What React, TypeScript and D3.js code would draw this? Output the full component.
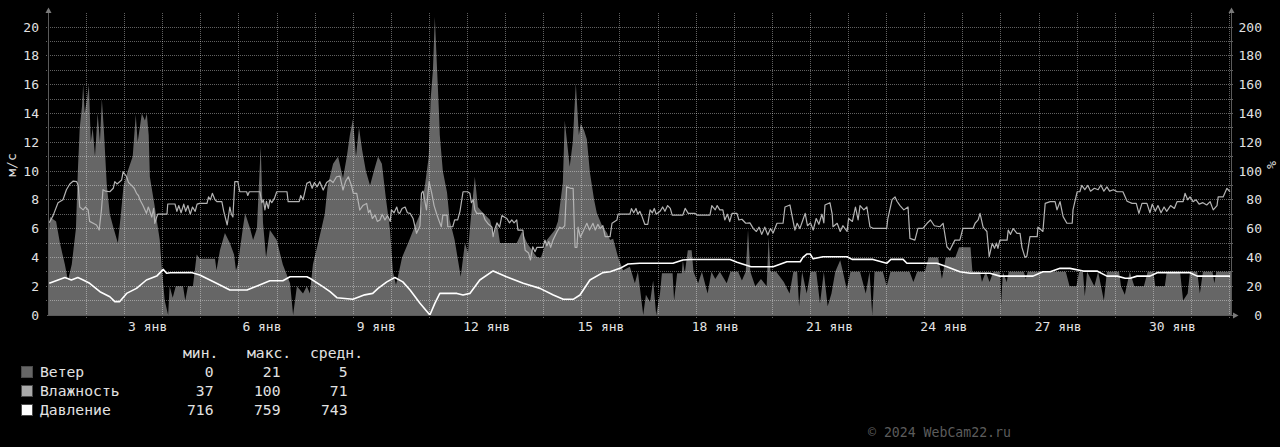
import React, { useEffect } from "react";
import * as d3 from "d3";

type Pt = [number, number];

// time in days since 1 Jan 00:00, values: wind m/s, humidity %, pressure mmHg
const windData: Pt[] = [
  [0,5.5],[0.04,6.8],[0.2,6.5],[0.3,5],[0.43,3.5],[0.51,2.4],[0.61,3.5],[0.72,6],[0.77,10],[0.82,13],[0.88,14.5],[0.91,16],[0.95,14],[1.01,15],[1.06,16],[1.11,12],[1.16,13],[1.22,11],[1.29,14],[1.35,12],[1.40,15],[1.45,13],[1.53,9],[1.61,7],[1.71,6],[1.82,5],[1.90,7],[1.97,9],[2.08,10],[2.21,11],[2.29,13.9],[2.34,12],[2.45,14],[2.53,13.5],[2.58,14],[2.63,12.5],
  [2.66,9.6],[2.79,7.5],[2.92,5.2],[2.97,3.35],[3.05,1.0],[3.14,0],[3.18,2.0],[3.26,1.2],[3.34,2.0],[3.53,2.0],[3.59,1.0],[3.66,2.0],[3.79,2.0],[3.89,4.2],[3.97,3.9],[4.37,3.9],[4.41,3.1],[4.5,4.5],[4.63,5.7],[4.76,5.0],[4.87,4.2],[4.92,3.1],[4.97,3.5],[5.1,6],[5.16,7.06],[5.29,6],[5.37,5.2],[5.47,6],[5.57,11.7],[5.63,6.4],[5.71,4.0],[5.81,5.9],[5.99,5.2],[6.15,3.5],[6.34,2.2],[6.42,0],[6.52,2.0],[6.68,1.5],[6.78,2.0],[6.86,1.5],[6.94,3.5],[7.12,5.5],[7.25,7],[7.33,9],
  [7.47,10.5],[7.60,11],[7.73,9.5],[7.83,11],[7.91,12.5],[7.99,13.6],[8.07,11],[8.15,13],[8.23,11.5],[8.33,10],[8.44,9],[8.54,10],[8.65,11],[8.75,10.5],[8.86,8],[8.96,6],[9.04,3],[9.12,2.1],[9.20,3],[9.28,4],[9.44,5],[9.59,6],[9.75,7],[9.88,9],[9.98,11],[10.03,15],[10.09,17],[10.14,20.7],[10.20,17],[10.25,14],[10.27,12.5],[10.35,10],[10.46,8.5],[10.53,6.6],[10.66,5.2],[10.82,2.66],[10.93,5],[11.01,4.3],[11.06,6],[11.19,9.6],[11.27,7.5],[11.40,7.1],[11.59,6.6],[11.69,5.5],[11.77,6.4],[11.85,5.0],[12.29,5.0],[12.43,5.8],[12.56,5.0],[12.81,4.05],[12.92,3.96],[13.08,5.2],[13.29,5.9],[13.37,6.5],[13.5,9.2],[13.55,13.5],[13.68,10.3],[13.76,12],[13.84,16.1],[13.92,12.5],[13.97,13.3],[14.06,12.8],[14.13,12.2],[14.21,9.9],[14.32,8],[14.39,7.1],[14.53,6.2],[14.66,5.7],[14.74,5.2],[14.82,5.3],[14.95,4.0],[15.08,3.1],[15.26,3.35],[15.39,2.2],[15.47,3],[15.61,0],[15.68,1.4],[15.79,0.9],[15.87,2.4],[15.95,0],[16.05,1.5],
  [16.1,2.9],[16.38,2.9],[16.42,1.0],[16.5,2.9],[16.62,2.9],[16.65,3.8],[16.7,2.9],[16.78,4.5],[16.88,4.5],[16.93,3.0],[17.05,2.2],[17.15,3.0],[17.3,1.5],[17.4,3.0],[17.5,2.5],[17.62,3.0],[17.8,2.2],[17.9,3.0],[18.1,3.0],[18.2,2.4],[18.3,3.0],[18.36,5.9],[18.42,3.0],[18.55,2.0],[18.7,2.5],[18.85,2.0],[18.9,5.4],[18.95,3.0],[19.1,3.0],[19.3,2.3],[19.45,1.5],[19.55,3.0],[19.65,3.0],[19.7,0.6],[19.78,3.0],[19.9,1.5],[20.0,3.0],[20.15,3.0],[20.25,0.8],[20.35,3.0],[20.45,0.6],[20.55,1.5],[20.65,3.0],[20.78,3.8],[20.85,3.0],[20.95,1.8],[21.05,3.0],[21.3,3.0],[21.45,1.5],[21.55,3.0],[21.62,0],[21.68,3.0],[21.9,3.0],[22.0,2.0],[22.1,3.0],[22.6,3.0],[22.7,2.3],[22.8,3.0],[23.0,3.0],[23.1,4.0],[23.35,4.0],[23.45,2.5],[23.55,4.0],[23.8,4.0],[23.9,4.7],[24.2,4.7],[24.25,3.0],[24.45,3.0],[24.5,2.3],[24.6,3.0],[24.7,2.3],[24.8,3.0],[24.97,3.0],[25.0,0.6],[25.05,3.0],[25.15,2.3],[25.2,3.0],[25.6,3.0],[25.65,2.5],[25.7,3.0],[26.7,3.0],[26.8,2.0],[26.98,2.0],[27.05,3.0],[27.15,3.0],[27.2,1.3],[27.26,3.0],[27.45,2.0],[27.55,3.0],[27.7,1.0],[27.78,3.0],[28.1,3.0],[28.15,2.0],[28.25,1.4],[28.38,3.0],[28.5,2.0],[28.75,2.0],[28.85,3.0],[29.0,3.0],[29.05,2.0],[29.3,2.0],[29.35,3.0],[29.7,3.0],[29.78,1.0],[29.9,1.5],[29.96,3.0],[30.15,3.0],[30.22,1.5],[30.3,3.0],[30.55,3.0],[30.6,2.2],[30.65,3.0],[31.05,3.0],
];

const humidityData: Pt[] = [
  [0.02,64],[0.12,69],[0.25,78],[0.38,80],[0.47,87],[0.56,91],[0.65,93],[0.74,92.6],[0.78,90],[0.82,75],[0.91,73],[0.97,75],[1.04,73],[1.08,65],[1.26,62.5],[1.33,59],[1.39,73],[1.43,87],[1.5,86],[1.61,85.6],[1.7,88],[1.74,92.6],[1.8,91],[1.92,93.8],[1.96,99.5],[2.05,96],[2.1,92],[2.18,90],[2.25,88],[2.31,84.5],[2.36,83],[2.40,80],[2.48,76],[2.57,70.6],[2.62,75],[2.66,72],[2.71,68],[2.76,74],[2.79,63.6],[2.84,68],[2.87,70.1],[3.11,70.1],[3.13,77.1],[3.32,77.1],[3.37,72],[3.42,76],[3.48,71],[3.55,77],[3.6,72],[3.66,76],[3.72,70],[3.78,75],[3.85,72],[3.9,77],[3.97,77.5],[4.16,77.5],[4.2,82],[4.25,80],[4.3,84.5],[4.37,80],[4.42,78.7],[4.55,78.7],[4.6,72],[4.69,62.5],[4.76,75],[4.8,70],[4.84,68],[4.89,92.6],[4.97,92.6],[5.02,85.6],[5.2,85.6],[5.23,83],[5.27,85.6],[5.55,85.6],[5.6,78],[5.64,80],[5.68,73],[5.72,79],[5.77,74],[5.81,80],[5.86,78],[5.93,81],[5.99,85.6],[6.26,85.6],[6.29,78.7],[6.58,78.7],[6.62,83],[6.68,80],[6.78,91.4],[6.86,92.6],[6.92,88],[6.98,92],[7.05,89],[7.12,92.6],[7.21,86.8],[7.3,92],[7.39,93.8],[7.47,92],[7.56,96],[7.65,96.5],[7.73,86.8],[7.8,93],[7.87,96],[7.95,90],[8.0,84.5],[8.09,84.5],[8.17,72.9],[8.25,76],[8.35,77.5],[8.4,71],[8.44,72.9],[8.5,67],[8.57,69.4],[8.63,65],[8.70,66],[8.76,70],[8.83,66],[8.9,69],[8.97,65],[9.0,73],[9.07,71],[9.14,75],[9.18,71],[9.22,70.6],[9.28,74],[9.36,75],[9.42,71],[9.49,70.6],[9.57,67],[9.66,56.7],[9.72,60],[9.75,62],[9.79,84.5],[9.83,86],[9.92,73],[9.99,92.6],[10.06,84.5],[10.12,76],[10.19,70],[10.27,64],[10.31,61.3],[10.35,69.4],[10.46,69.4],[10.48,61.3],[10.61,61.3],[10.66,66],[10.74,66],[10.8,72],[10.88,85.6],[11.0,85.6],[11.06,84.5],[11.1,78],[11.15,80],[11.19,73],[11.24,70.6],[11.40,70.6],[11.46,66],[11.55,63],[11.64,61],[11.67,54.4],[11.72,60],[11.77,64],[11.84,61],[11.9,69],[12.03,67],[12.1,64],[12.16,66],[12.22,64],[12.29,66],[12.32,59],[12.45,59],[12.51,45],[12.6,43],[12.65,38.2],[12.71,47.4],[12.77,44],[12.82,47],[12.98,47],[13.03,52],[13.08,48],[13.13,51],[13.18,47],[13.24,52],[13.35,58],[13.42,61],[13.48,60],[13.55,62],[13.6,89],[13.7,88],[13.77,88],[13.82,47],[13.87,47],[13.9,61],[13.96,54],[14.03,58],[14.13,63.7],[14.2,59],[14.29,63.7],[14.35,59],[14.42,63],[14.48,60],[14.55,62],[14.61,54.4],[14.74,54.4],[14.79,63.7],[14.92,66],[14.95,70.1],[15.26,70.1],[15.3,73.9],[15.36,71],[15.42,74],[15.47,70],[15.52,72],[15.57,69],[15.65,63],[15.73,63],[15.79,73],[15.85,71],[15.9,74],[15.95,70],[16.05,72],
  [16.12,75],[16.18,72],[16.25,76],[16.32,74],[16.37,69.4],[16.65,69.4],[16.71,74],[16.79,70.6],[16.97,70.6],[17.02,69.4],[17.36,69.4],[17.41,76],[17.5,73],[17.55,76],[17.62,73],[17.70,73],[17.75,66],[17.82,70],[17.88,64.8],[17.94,70.6],[18.07,70.6],[18.12,66],[18.2,66.5],[18.3,63.7],[18.41,64],[18.5,60],[18.58,58],[18.65,61],[18.72,56],[18.8,61],[18.88,55.6],[18.95,60],[19.02,57],[19.12,63.7],[19.28,63.7],[19.33,75],[19.46,76.4],[19.59,59],[19.65,63.7],[19.72,60],[19.8,66],[19.86,70.6],[19.92,62],[20.0,64],[20.07,59],[20.15,67],[20.22,63],[20.3,70],[20.35,64],[20.38,76.4],[20.51,78],[20.57,70],[20.59,61.3],[20.7,63.7],[20.78,58],[20.85,62],[20.96,58],[21.0,67],[21.1,65],[21.18,75],[21.25,66],[21.30,76],[21.4,73],[21.48,75],[21.56,61.3],[21.64,60.2],[22.0,60.2],[22.03,67],[22.14,80],[22.22,82],[22.27,79],[22.35,76],[22.45,73],[22.56,75],[22.61,53.2],[22.74,52],[22.82,60.2],[22.95,60.2],[23.06,63.7],[23.15,66],[23.25,62],[23.40,61.3],[23.48,63.7],[23.58,47.4],[23.66,45.1],[23.79,52],[23.92,52],[24.0,60.2],[24.27,60.2],[24.32,63.7],[24.40,66],[24.45,70.6],[24.53,61],[24.63,58],[24.69,40.5],[24.77,49.8],[24.83,46.3],[24.88,50],[24.92,46.3],[24.97,52],[25.16,52],[25.19,59],[25.25,56],[25.32,60],[25.42,56.7],[25.5,56.7],[25.55,47],[25.63,40],[25.68,41],[25.76,54.4],[25.95,54.4],[25.97,61],[26.1,58],[26.16,77.5],[26.29,78.7],[26.42,78.7],[26.47,73],[26.55,78.7],[26.63,68.3],[26.73,63.7],[26.87,63.7],[26.89,73],[27.0,85.6],[27.07,85.6],[27.12,90],[27.2,87],[27.28,90],[27.35,86],[27.45,88],[27.55,87],[27.62,90.3],[27.7,86],[27.78,89],[27.85,86],[27.95,87],[28.05,85.6],[28.2,85.6],[28.31,79],[28.44,77.5],[28.55,77.5],[28.62,70.6],[28.7,77.5],[28.83,77.5],[28.91,71],[28.97,77],[29.05,72],[29.12,76],[29.2,71],[29.28,75],[29.35,72],[29.45,76],[29.55,74],[29.62,78.7],[29.78,78.7],[29.83,84.5],[29.9,80],[29.96,82],[30.04,78.7],[30.12,80],[30.2,77],[30.3,78],[30.4,76.4],[30.49,78.7],[30.57,73],[30.67,76],[30.70,82],[30.83,82],[30.93,88],[31.01,85.6],
];

const pressureData: Pt[] = [
  [0.02,738],[0.25,740.3],[0.43,742],[0.6,740.3],[0.77,742],[0.91,740.3],[1.08,738],[1.35,732.2],[1.61,728.7],[1.74,725.3],[1.87,725.3],[2.05,731],[2.31,734.5],[2.57,740.3],[2.84,743],[3.01,747.7],[3.1,745],[3.2,745.3],[3.75,745.5],[3.97,743.8],[4.41,738],[4.76,733.4],[5.21,733.4],[5.46,736],[5.81,739.8],[6.15,739.8],[6.34,742.6],[6.78,742.6],[6.86,741.5],[7.2,735.7],[7.39,732.2],[7.57,728],[7.99,726.9],[8.3,730],[8.51,731],[8.65,734.5],[8.88,739],[9.09,742],[9.3,739],[9.49,733.4],[9.75,724.1],[10.01,716],[10.14,724.1],[10.27,731],[10.46,731],[10.72,731],[10.88,729.9],[11.06,731],[11.32,740.3],[11.67,746.6],[12.02,742.6],[12.46,738],[12.9,734.5],[13.25,729.9],[13.51,726.9],[13.77,726.9],[13.95,729.9],[14.21,740.3],[14.55,745.4],[14.74,746],[15.0,748.4],[15.21,751.4],[15.52,751.9],[16.39,751.9],[16.65,754.2],[16.84,754.5],[17.89,754.5],[18.07,752.6],[18.44,749.5],[19.02,749.5],[19.38,753],[19.73,753],[19.8,756],[19.91,758.4],[19.99,758.4],[20.07,755],[20.33,756.5],[20.96,756.5],[21.09,754.6],[21.64,754.6],[22.0,751.9],[22.11,754.6],[22.43,754.6],[22.53,751.9],[23.32,751.9],[23.58,749.5],[23.92,746],[24.19,745],[24.71,745],[24.97,743],[25.84,743],[26.1,746],[26.29,746],[26.55,748.4],[26.81,748.4],[27.16,746.5],[27.52,746.5],[27.78,743],[28.05,743],[28.26,741.5],[28.39,741.5],[28.57,743],[28.91,743],[29.1,745.4],[29.96,745.4],[30.15,743],[31.01,743],
];

const labelDays = [3, 6, 9, 12, 15, 18, 21, 24, 27, 30];
const monthName = "янв";
const leftTicks = [0, 2, 4, 6, 8, 10, 12, 14, 16, 18, 20];
const rightTicks = [0, 20, 40, 60, 80, 100, 120, 140, 160, 180, 200];
const legendNames = ["Ветер", "Влажность", "Давление"];
const legendColors = ["#666666", "#aaaaaa", "#ffffff"];
const legendHeaders = ["мин.", "макс.", "средн."];
const legendMin = [0, 37, 716];
const legendMax = [21, 100, 759];
const legendAvg = [5, 71, 743];
const leftUnit = "м/с";
const rightUnit = "%";
const copyright = "© 2024 WebCam22.ru";

const FONT = "'DejaVu Sans Mono', 'Liberation Mono', monospace";

export default function App() {
  useEffect(() => {
    document.body.style.margin = "0";
    document.body.style.background = "#000";
  }, []);

  const DAY_SPAN = 31.05;
  const x = d3.scaleLinear().domain([0, DAY_SPAN]).range([48.5, 1231.5]);
  const y = d3.scaleLinear().domain([0, 21]).range([315, 12.6]);
  const yHum = d3.scaleLinear().domain([0, 210]).range([315, 12.6]);
  const yPres = d3.scaleLinear().domain([716, 926]).range([315, 12.6]);

  const windArea = d3.area<Pt>().x((d) => x(d[0])).y0(y(0)).y1((d) => y(d[1]));
  const humLine = d3.line<Pt>().x((d) => x(d[0])).y((d) => yHum(d[1]));
  const presLine = d3.line<Pt>().x((d) => x(d[0])).y((d) => yPres(d[1]));

  const hGrid = d3.range(1, 21).map((v) => Math.floor(y(v)) + 0.5);
  const vGrid = d3.range(1, 32).map((d) => Math.floor(x(d)) + 0.5);
  const gridColor = "rgba(255,255,255,0.38)";
  const axisColor = "#5a5a5a";
  const textColor = "#e2e2e2";
  const left = 48.5;
  const right = 1231.5;
  const bottom = 315.5;

  const rowY = [376.5, 395.5, 414.5];
  const colEnds = [213.5, 280.5, 347.5];
  const headerStarts = [183, 247, 310];

  return (
    <svg
      width={1280}
      height={447}
      style={{ position: "absolute", left: 0, top: 0, background: "#000", display: "block" }}
      fontFamily={FONT}
    >
      <rect x={0} y={0} width={1280} height={447} fill="#000" />
      {/* wind area */}
      <path d={windArea(windData) || ""} fill="#666666" />
      {/* grid */}
      <g stroke={gridColor} strokeWidth={1} strokeDasharray="1,1" shapeRendering="crispEdges">
        {hGrid.map((gy, i) => (
          <line key={"h" + i} x1={46} x2={1234} y1={gy} y2={gy} />
        ))}
        {vGrid.map((gx, i) => (
          <line key={"v" + i} x1={gx} x2={gx} y1={13} y2={318} />
        ))}
      </g>
      {/* lines */}
      <path d={humLine(humidityData) || ""} fill="none" stroke="#b4b4b4" strokeWidth={1.2} strokeLinejoin="round" />
      <path d={presLine(pressureData) || ""} fill="none" stroke="#ffffff" strokeWidth={1.6} strokeLinejoin="round" />
      {/* axes */}
      <g stroke={axisColor} strokeWidth={1} shapeRendering="crispEdges">
        <line x1={left} x2={left} y1={bottom} y2={10} />
        <line x1={right} x2={right} y1={bottom} y2={10} />
        <line x1={left - 2} x2={1234} y1={bottom} y2={bottom} />
      </g>
      <g fill="#7a7a7a">
        <path d={`M${left - 3},13 L${left + 3},13 L${left},7.5 Z`} />
        <path d={`M${right - 3},13 L${right + 3},13 L${right},7.5 Z`} />
        <path d={`M1233,${bottom - 3} L1233,${bottom + 3} L1238.5,${bottom} Z`} />
      </g>
      {/* left axis labels */}
      <g fill={textColor} fontSize={13} textAnchor="end">
        {leftTicks.map((v) => (
          <text key={"l" + v} x={39} y={y(v)} dy="0.36em">
            {v}
          </text>
        ))}
      </g>
      <g fill={textColor} fontSize={13} textAnchor="end">
        {rightTicks.map((v) => (
          <text key={"r" + v} x={1262} y={yHum(v)} dy="0.36em">
            {v}
          </text>
        ))}
      </g>
      <text x={11} y={165} fill={textColor} fontSize={13} textAnchor="middle" dy="0.36em" transform="rotate(-90 11 165)">
        {leftUnit}
      </text>
      <text x={1272} y={165} fill={textColor} fontSize={13} textAnchor="middle" dy="0.36em" transform="rotate(90 1272 165)">
        {rightUnit}
      </text>
      {/* x labels */}
      <g fill={textColor} fontSize={13} textAnchor="middle">
        {labelDays.map((d) => (
          <text key={"x" + d} x={x(d - 0.5)} y={331} style={{ whiteSpace: "pre" }} xmlSpace="preserve">
            {`${String(d).padStart(2, " ")} ${monthName}`}
          </text>
        ))}
      </g>
      {/* legend */}
      <g fill={textColor} fontSize={14.7}>
        {legendHeaders.map((h, i) => (
          <text key={"hd" + i} x={headerStarts[i]} y={358}>
            {h}
          </text>
        ))}
        {legendNames.map((n, i) => (
          <g key={"lg" + i}>
            <rect x={21.5} y={rowY[i] - 10} width={11} height={11} fill={legendColors[i]} stroke="#4a4a4a" strokeWidth={1} />
            <text x={40} y={rowY[i]}>
              {n}
            </text>
            <text x={colEnds[0]} y={rowY[i]} textAnchor="end">
              {legendMin[i]}
            </text>
            <text x={colEnds[1]} y={rowY[i]} textAnchor="end">
              {legendMax[i]}
            </text>
            <text x={colEnds[2]} y={rowY[i]} textAnchor="end">
              {legendAvg[i]}
            </text>
          </g>
        ))}
      </g>
      <text x={868} y={437} fill="#5c5c5c" fontSize={13.2}>
        {copyright}
      </text>
    </svg>
  );
}
